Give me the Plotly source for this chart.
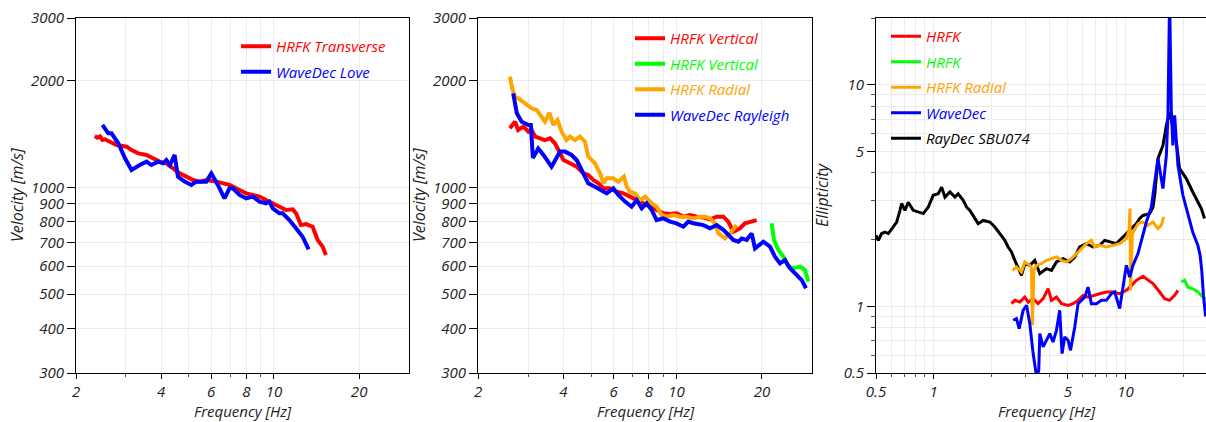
import plotly.graph_objects as go
import math

# ---------------- Panel 1: Love-type dispersion ----------------
p1_hrfk_t_f = [2.33, 2.38, 2.43, 2.48, 2.53, 2.63, 2.78, 3.02, 3.14, 3.32, 3.55, 3.74, 3.95, 4.17, 4.40, 4.65,
               4.91, 5.18, 5.47, 5.77, 6.26, 6.60, 6.97, 7.56, 7.98, 8.42, 8.89, 9.38, 9.91, 10.46, 11.04,
               11.65, 11.97, 12.46, 12.98, 13.70, 14.27, 14.86, 15.26]
p1_hrfk_t_v = [1395, 1380, 1392, 1360, 1366, 1345, 1316, 1302, 1274, 1247, 1234, 1208, 1182, 1169, 1131, 1095,
               1072, 1049, 1038, 1049, 1038, 1027, 1016, 983, 962, 952, 942, 921, 902, 882, 864,
               867, 845, 783, 788, 775, 711, 681, 645]
p1_wd_love_f = [2.48, 2.60, 2.67, 2.82, 2.98, 3.14, 3.36, 3.55, 3.69, 3.90, 4.06, 4.17, 4.29, 4.46, 4.58, 4.84,
                5.11, 5.32, 5.77, 6.01, 6.34, 6.69, 6.97, 7.16, 7.56, 7.98, 8.42, 8.89, 9.38, 9.64, 9.91,
                10.46, 10.74, 11.34, 11.97, 12.63, 13.26]
p1_wd_love_v = [1499, 1420, 1420, 1331, 1208, 1119, 1156, 1182, 1156, 1182, 1169, 1194, 1156, 1234, 1072, 1038,
                1016, 1038, 1038, 1095, 1016, 931, 994, 994, 952, 931, 942, 912, 902, 912, 873,
                845, 845, 809, 767, 726, 669]

# ---------------- Panel 2: Rayleigh-type dispersion ----------------
p2_hrfk_v_f = [2.59, 2.70, 2.77, 2.89, 3.01, 3.09, 3.18, 3.31, 3.44, 3.59, 3.73, 3.84, 4.00, 4.22, 4.45, 4.70,
               4.89, 5.09, 5.31, 5.53, 5.83, 6.16, 6.50, 6.86, 7.24, 7.64, 8.07, 8.51, 8.99, 9.49, 10.0,
               10.57, 11.16, 11.78, 12.43, 13.12, 13.85, 14.62, 15.22, 15.85, 16.73, 17.42, 18.39, 19.15]
p2_hrfk_v_v = [1467, 1531, 1451, 1483, 1435, 1451, 1390, 1374, 1359, 1374, 1331, 1274, 1194, 1169, 1144, 1095,
               1083, 1049, 1027, 994, 994, 972, 962, 942, 921, 902, 882, 864, 845, 841, 845,
               827, 836, 827, 823, 813, 827, 827, 801, 750, 767, 792, 801, 809]
p2_hrfk_v2_f = [21.63, 22.04, 22.85, 23.78, 24.76, 25.78, 27.22, 28.34, 29.12]
p2_hrfk_v2_v = [792, 711, 666, 638, 598, 592, 598, 585, 543]
p2_hrfk_r_f = [2.59, 2.64, 2.70, 2.77, 2.93, 3.09, 3.22, 3.35, 3.44, 3.57, 3.68, 3.81, 3.94, 4.10, 4.22, 4.39,
               4.57, 4.76, 4.89, 5.16, 5.38, 5.53, 5.68, 5.99, 6.24, 6.53, 6.68, 6.86, 7.14, 7.44, 7.75,
               8.18, 8.51, 8.87, 9.23, 9.75, 10.29, 10.86, 11.46, 12.10, 12.60, 13.12, 13.66, 14.04, 14.82,
               15.43, 16.29]
p2_hrfk_r_v = [2050, 1900, 1800, 1782, 1725, 1670, 1652, 1582, 1531, 1623, 1499, 1548, 1435, 1359, 1390, 1359,
               1390, 1345, 1221, 1169, 1095, 1027, 1061, 1061, 1038, 1072, 1004, 972, 962, 921, 942,
               902, 882, 836, 827, 836, 827, 827, 818, 827, 827, 818, 792, 742, 718,
               742, 783]
p2_wd_ray_f = [2.66, 2.74, 2.85, 3.01, 3.07, 3.12, 3.26, 3.40, 3.63, 3.89, 4.05, 4.27, 4.45, 4.70, 4.89, 5.16,
               5.38, 5.68, 5.99, 6.24, 6.59, 6.95, 7.24, 7.54, 7.85, 8.18, 8.51, 8.99, 9.49, 10.0, 10.57,
               11.01, 11.46, 12.43, 13.12, 13.85, 14.62, 15.22, 15.85, 16.51, 16.96, 17.66, 18.39, 18.90,
               20.22, 21.34, 22.22, 23.14, 24.10, 25.10, 26.50, 27.60, 28.58]
p2_wd_ray_v = [1840, 1616, 1531, 1499, 1499, 1210, 1287, 1234, 1144, 1261, 1261, 1234, 1194, 1095, 1027, 1004,
               983, 962, 994, 952, 912, 882, 921, 873, 902, 864, 809, 818, 801, 792, 775,
               801, 792, 783, 767, 783, 759, 734, 711, 703, 718, 711, 742, 673,
               703, 681, 638, 611, 624, 592, 567, 548, 520]

# ---------------- Panel 3: ellipticity ----------------
p3_hrfk_f = [2.545, 2.648, 2.81, 2.985, 3.11, 3.30, 3.50, 3.72, 3.95, 4.113, 4.366, 4.64, 5.02, 5.33, 5.66,
             6.01, 6.38, 6.77, 7.34, 7.95, 8.61, 9.33, 10.11, 10.75, 11.40, 12.34, 13.09, 13.91, 15.08, 16.0,
             16.99, 18.05, 18.77]
p3_hrfk_e = [1.028, 1.064, 1.045, 1.10, 1.045, 1.083, 1.028, 1.083, 1.20, 1.064, 1.10, 1.028, 1.01, 1.028, 1.064,
             1.12, 1.10, 1.12, 1.14, 1.16, 1.16, 1.14, 1.18, 1.24, 1.31, 1.366, 1.31, 1.266, 1.16, 1.083,
             1.064, 1.12, 1.18]
p3_hrfk2_f = [19.55, 20.35, 21.17, 22.44, 23.86, 25.34, 26.17]
p3_hrfk2_e = [1.287, 1.31, 1.22, 1.20, 1.16, 1.10, 1.083]
p3_hrfk_r_f = [2.575, 2.70, 2.87, 2.985, 3.17, 3.23, 3.27, 3.33, 3.44, 3.65, 3.873, 4.113, 4.366, 4.64, 4.92,
               5.23, 5.55, 5.773, 6.01, 6.257, 6.64, 6.91, 7.34, 7.95, 8.61, 9.33, 10.11, 10.43, 10.56, 10.62,
               10.87, 11.62, 12.34, 13.09, 13.91, 14.77, 15.38, 15.81]
p3_hrfk_r_e = [1.453, 1.504, 1.428, 1.585, 1.531, 1.504, 0.821, 1.453, 1.531, 1.557, 1.612, 1.641, 1.669, 1.612,
               1.585, 1.641, 1.729, 1.789, 1.852, 1.918, 1.985, 1.852, 1.884, 1.852, 1.884, 1.918, 2.02, 2.20,
               2.76, 1.18, 2.13, 2.36, 2.40, 2.32, 2.40, 2.24, 2.32, 2.53]
p3_wd_f = [2.595, 2.70, 2.79, 2.925, 3.05, 3.17, 3.30, 3.44, 3.53, 3.574, 3.72, 3.873, 4.03, 4.19, 4.366, 4.54,
           4.67, 4.82, 5.02, 5.17, 5.438, 5.66, 5.89, 6.13, 6.38, 6.64, 7.05, 7.49, 7.95, 8.45, 8.79, 9.33,
           9.705, 10.11, 10.52, 10.94, 11.62, 12.10, 12.85, 13.64, 14.20, 14.77, 15.68, 16.34, 16.65, 16.99,
           17.34, 17.67, 18.05, 18.77, 19.93, 21.17, 22.44, 23.86, 24.5, 25.0, 25.5, 26.17]
p3_wd_e = [0.865, 0.880, 0.793, 0.959, 1.01, 0.835, 0.612, 0.48, 0.514, 0.753, 0.656, 0.703, 0.753, 0.690, 0.779,
           0.959, 0.612, 0.727, 0.703, 0.633, 0.807, 1.028, 1.064, 1.10, 1.22, 1.028, 1.028, 1.064, 1.064, 1.14,
           1.16, 0.976, 1.22, 1.531, 1.356, 1.531, 1.729, 1.985, 2.40, 2.80, 3.58, 4.64, 3.40, 4.80, 7.27, 25.0,
           7.66, 5.32, 7.27, 4.33, 3.17, 2.57, 2.16, 1.88, 1.70, 1.45, 1.12, 0.90]
p3_raydec_f = [0.5, 0.514, 0.535, 0.557, 0.580, 0.615, 0.641, 0.667, 0.680, 0.708, 0.736, 0.782, 0.830, 0.882,
               0.936, 0.994, 1.056, 1.100, 1.144, 1.215, 1.290, 1.341, 1.425, 1.485, 1.544, 1.606, 1.705,
               1.811, 1.963, 2.084, 2.212, 2.349, 2.443, 2.545, 2.648, 2.755, 2.870, 2.985, 3.170, 3.365,
               3.574, 3.873, 4.113, 4.366, 4.728, 5.122, 5.438, 5.773, 6.257, 6.773, 7.340, 7.792, 8.277,
               8.966, 9.705, 10.52, 11.40, 11.86, 12.34, 13.37, 13.91, 14.20, 14.77, 15.68, 16.34, 16.99,
               18.41, 19.15, 20.76, 22.44, 23.86, 24.86, 25.85]
p3_raydec_e = [2.09, 1.985, 2.13, 2.16, 2.13, 2.28, 2.40, 2.71, 2.91, 2.71, 2.95, 2.71, 2.66, 2.62,
               2.80, 3.17, 3.22, 3.45, 3.11, 3.28, 3.11, 3.22, 3.01, 2.80, 2.71, 2.57, 2.36,
               2.44, 2.40, 2.28, 2.13, 1.985, 1.852, 1.759, 1.612, 1.504, 1.380, 1.557, 1.531, 1.612,
               1.404, 1.479, 1.453, 1.585, 1.641, 1.585, 1.669, 1.852, 1.918, 1.852, 1.884, 1.985, 1.950,
               1.918, 2.054, 2.20, 2.36, 2.49, 2.57, 2.62, 2.80, 3.17, 4.64, 5.32, 6.55, 7.52,
               5.51, 4.18, 3.77, 3.28, 2.95, 2.76, 2.49]

# ---------------- Tick labels ----------------
vel_ticks = [300, 400, 500, 600, 700, 800, 900, 1000, 2000, 3000]
freq_ticks_12 = [2, 4, 6, 8, 10, 20]
freq_minor_12 = [3, 5, 7, 9]
freq_ticks_3 = [0.5, 1, 5, 10]
freq_minor_3 = [0.6, 0.7, 0.8, 0.9, 2, 3, 4, 6, 7, 8, 9, 20]
ell_ticks = [0.5, 1, 5, 10]
ell_minor = [0.6, 0.7, 0.8, 0.9, 2, 3, 4, 6, 7, 8, 9, 20]

RED, GREEN, ORANGE, BLUE, BLACK = "#ff0000", "#00ff00", "#ffa500", "#0000ff", "#000000"
FONT = "Open Sans"
W, H = 1206, 422
ML, MR, MT, MB = 0, 0, 18, 49


def lbl(text, color):
    return f'<span style="color:{color}">{text}</span>'


fig = go.Figure()


def add(x, y, name, color, xa, ya, legend, rank, width=4):
    fig.add_trace(go.Scatter(
        x=x, y=y, mode="lines", name=lbl(name, color),
        line=dict(color=color, width=width),
        xaxis=xa, yaxis=ya, legend=legend, legendrank=rank,
        legendgroup=f"{legend}-{rank}", hoverinfo="skip"))


add(p1_hrfk_t_f, p1_hrfk_t_v, "HRFK Transverse", RED, "x", "y", "legend", 1)
add(p1_wd_love_f, p1_wd_love_v, "WaveDec Love", BLUE, "x", "y", "legend", 2)

add(p2_hrfk_v_f, p2_hrfk_v_v, "HRFK Vertical", RED, "x2", "y2", "legend2", 1)
add(p2_hrfk_v2_f, p2_hrfk_v2_v, "HRFK Vertical", GREEN, "x2", "y2", "legend2", 2)
add(p2_hrfk_r_f, p2_hrfk_r_v, "HRFK Radial", ORANGE, "x2", "y2", "legend2", 3)
add(p2_wd_ray_f, p2_wd_ray_v, "WaveDec Rayleigh", BLUE, "x2", "y2", "legend2", 4)

add(p3_raydec_f, p3_raydec_e, "RayDec SBU074", BLACK, "x3", "y3", "legend3", 5, 3)
add(p3_hrfk_f, p3_hrfk_e, "HRFK", RED, "x3", "y3", "legend3", 1, 3)
add(p3_hrfk2_f, p3_hrfk2_e, "HRFK", GREEN, "x3", "y3", "legend3", 2, 3)
add(p3_hrfk_r_f, p3_hrfk_r_e, "HRFK Radial", ORANGE, "x3", "y3", "legend3", 3, 3)
add(p3_wd_f, p3_wd_e, "WaveDec", BLUE, "x3", "y3", "legend3", 4, 3)


def px2paper_x(px):
    return (px - ML) / (W - ML - MR)


def px2paper_y(py):
    return (H - MB - py) / (H - MT - MB)


tickfont = dict(family=FONT, size=15, color="#222222", style="italic")
GRID = "#ebebeb"


def xaxis(domain, rng, ticks, minor, anchor):
    return dict(type="log", domain=domain, range=rng, anchor=anchor,
                tickmode="array", tickvals=ticks, ticktext=[f"{t:g}" for t in ticks],
                ticks="outside", ticklen=5, tickcolor="black", tickfont=tickfont,
                showgrid=True, gridcolor=GRID, gridwidth=1,
                minor=dict(tickvals=minor, ticks="outside", ticklen=3, tickcolor="#555555",
                           showgrid=True, gridcolor=GRID),
                showline=True, linecolor="black", linewidth=1, mirror=True,
                zeroline=False, automargin=False, fixedrange=True)


def yaxis(rng, ticks, minor, anchor):
    return dict(type="log", domain=[0, 1], range=rng, anchor=anchor,
                tickmode="array", tickvals=ticks, ticktext=[f"{t:g}" for t in ticks],
                ticks="outside", ticklen=8, tickcolor="black", tickfont=tickfont,
                showgrid=True, gridcolor=GRID, gridwidth=1,
                minor=dict(tickvals=minor, ticks="outside", ticklen=4, tickcolor="#555555",
                           showgrid=True, gridcolor=GRID),
                showline=True, linecolor="black", linewidth=1, mirror=True,
                zeroline=False, automargin=False, fixedrange=True)


d1 = [px2paper_x(76), px2paper_x(409)]
d2 = [px2paper_x(478), px2paper_x(812)]
d3 = [px2paper_x(876), 1.0]

vel_range = [math.log10(300), math.log10(3000)]
fr12 = [math.log10(2), math.log10(30)]
fr3 = [math.log10(0.5), math.log10(26.3)]
ell_range = [math.log10(0.5), math.log10(20)]

legend_common = dict(bgcolor="rgba(0,0,0,0)", borderwidth=0, traceorder="grouped",
                     tracegroupgap=3, xanchor="left", yanchor="top",
                     font=dict(family=FONT, size=15, style="italic"), itemclick=False)

fig.update_layout(
    width=W, height=H,
    margin=dict(l=ML, r=MR, t=MT, b=MB, pad=0),
    paper_bgcolor="white", plot_bgcolor="white",
    font=dict(family=FONT, size=15, color="#222222", style="italic"),
    showlegend=True,
    xaxis=xaxis(d1, fr12, freq_ticks_12, freq_minor_12, "y"),
    yaxis=yaxis(vel_range, vel_ticks, [], "x"),
    xaxis2=xaxis(d2, fr12, freq_ticks_12, freq_minor_12, "y2"),
    yaxis2=yaxis(vel_range, vel_ticks, [], "x2"),
    xaxis3=xaxis(d3, fr3, freq_ticks_3, freq_minor_3, "y3"),
    yaxis3=yaxis(ell_range, ell_ticks, ell_minor, "x3"),
    legend=dict(x=px2paper_x(236), y=px2paper_y(30), **legend_common),
    legend2=dict(x=px2paper_x(630), y=px2paper_y(22), **legend_common),
    legend3=dict(x=px2paper_x(886), y=px2paper_y(20), **legend_common),
)

title_font = dict(family=FONT, size=16, color="#222222", style="italic")
ann = []
for xc, txt in [(17, "Velocity [m/s]"), (419, "Velocity [m/s]"), (822, "Ellipticity")]:
    ann.append(dict(x=px2paper_x(xc), y=px2paper_y(195), xref="paper", yref="paper",
                    text=txt, textangle=-90, showarrow=False, font=title_font,
                    xanchor="center", yanchor="middle"))
for xc in [243, 646, 1047]:
    ann.append(dict(x=px2paper_x(xc), y=px2paper_y(411), xref="paper", yref="paper",
                    text="Frequency [Hz]", showarrow=False,
                    font=dict(family=FONT, size=15, color="#222222", style="italic"),
                    xanchor="center", yanchor="middle"))
fig.update_layout(annotations=ann)

fig.write_html("out.html", config=dict(displayModeBar=False))
